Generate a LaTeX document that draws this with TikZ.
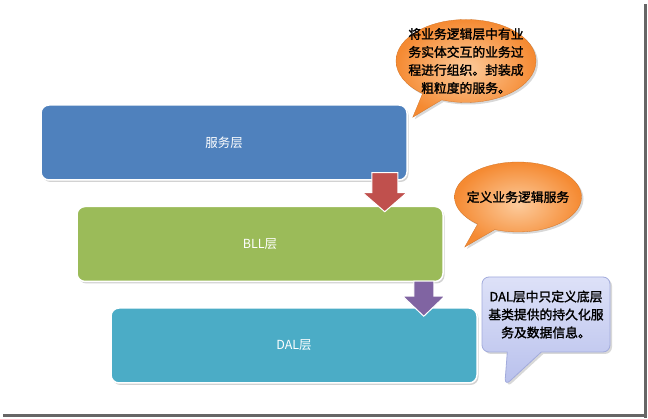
\documentclass[tikz,border=0pt]{standalone}
\usepackage{fontspec}
\setmainfont{Noto Sans CJK SC}
\newfontfamily\notefont[FakeBold=1.6]{Noto Sans CJK SC}
\usetikzlibrary{positioning,calc,shapes.callouts,shadows}

\definecolor{svcblue}{HTML}{4F81BD}
\definecolor{bllgreen}{HTML}{9BBB59}
\definecolor{dalteal}{HTML}{4BACC6}
\definecolor{arrowred}{HTML}{C0504D}
\definecolor{arrowpurple}{HTML}{8064A2}
\definecolor{noteorange}{HTML}{F58A32}
\definecolor{notelight}{HTML}{FCCB9C}
\definecolor{notelavtop}{HTML}{DDE1F8}
\definecolor{notelavbot}{HTML}{B8C0EC}
\definecolor{notelavline}{HTML}{A2ABDC}

\tikzset{
  layer/.style={rounded corners=8pt,draw=white,line width=1.5pt,minimum width=366pt,minimum height=75pt,
    text=white,font={\fontsize{12.5}{17.5}\selectfont},drop shadow={opacity=0.35,shadow xshift=1.5pt,shadow yshift=-2pt}},
  blockarrow/.style={draw=white,line width=1pt,line join=miter},
  bubble/.style={ellipse callout,inner sep=0pt,outer sep=0pt,callout pointer arc=18,
    inner color=notelight,outer color=noteorange,draw=noteorange!85!black,line width=0.3pt,
    drop shadow={opacity=0.3,shadow xshift=2pt,shadow yshift=-2pt}},
  boxnote/.style={rectangle callout,rounded corners=7pt,inner sep=0pt,callout pointer width=34pt,
    top color=notelavtop,bottom color=notelavbot,draw=notelavline,line width=0.8pt,
    drop shadow={opacity=0.3,shadow xshift=2pt,shadow yshift=-2pt}},
  notetext/.style={align=center,inner sep=0pt,font={\notefont\fontsize{12.8}{18}\selectfont}}
}

\begin{document}
\begin{tikzpicture}[x=1pt,y=-1pt]
\fill[white] (0,0) rectangle (648,419);
\useasboundingbox (0,0) rectangle (648,419);
% frame shadow
\fill[black!60] (644,4) rectangle (647,418);
\fill[black!60] (3,414) rectangle (647,417);

% layers
\node[layer,fill=svcblue] (svc) at (224,142.5) {服务层};
\node[layer,fill=bllgreen,anchor=north west] (bll) at ($(svc.south west)+(36,25)$) {BLL层};
\node[layer,fill=dalteal,anchor=north west] (dal) at ($(bll.south west)+(34,25)$) {DAL层};

% arrows between layers
\coordinate (a1) at ($(svc.south east)+(-23,-8)$);
\coordinate (a2) at ($(bll.south east)+(-20,-1)$);
\filldraw[blockarrow,fill=arrowred] (a1) ++(-13,0) -- ++(26,0) -- ++(0,20) -- ++(9,0) -- ++(-22,19) -- ++(-22,-19) -- ++(9,0) -- cycle;
\filldraw[blockarrow,fill=arrowpurple] (a2) ++(-10,0) -- ++(20,0) -- ++(0,15) -- ++(11,0) -- ++(-21,20) -- ++(-21,-20) -- ++(11,0) -- cycle;

% notes
\node[bubble,minimum width=140pt,minimum height=83pt,callout absolute pointer={($(svc.north east)+(5,13)$)},
  label={[notetext]center:{将业务逻辑层中有业\\务实体交互的业务过\\程进行组织。封装成\\粗粒度的服务。}}] (note1) at (466,61) {};
\node[bubble,minimum width=127pt,minimum height=70pt,callout absolute pointer={($(bll.east)+(21,3)$)},
  label={[notetext]center:{定义业务逻辑服务}}] (note2) at (518,197) {};
\node[boxnote,minimum width=128pt,minimum height=75pt,callout absolute pointer={($(dal.south east)+(27,2)$)},
  label={[notetext]center:{DAL层中只定义底层\\基类提供的持久化服\\务及数据信息。}}] (note3) at (546,314.5) {};
\end{tikzpicture}
\end{document}
